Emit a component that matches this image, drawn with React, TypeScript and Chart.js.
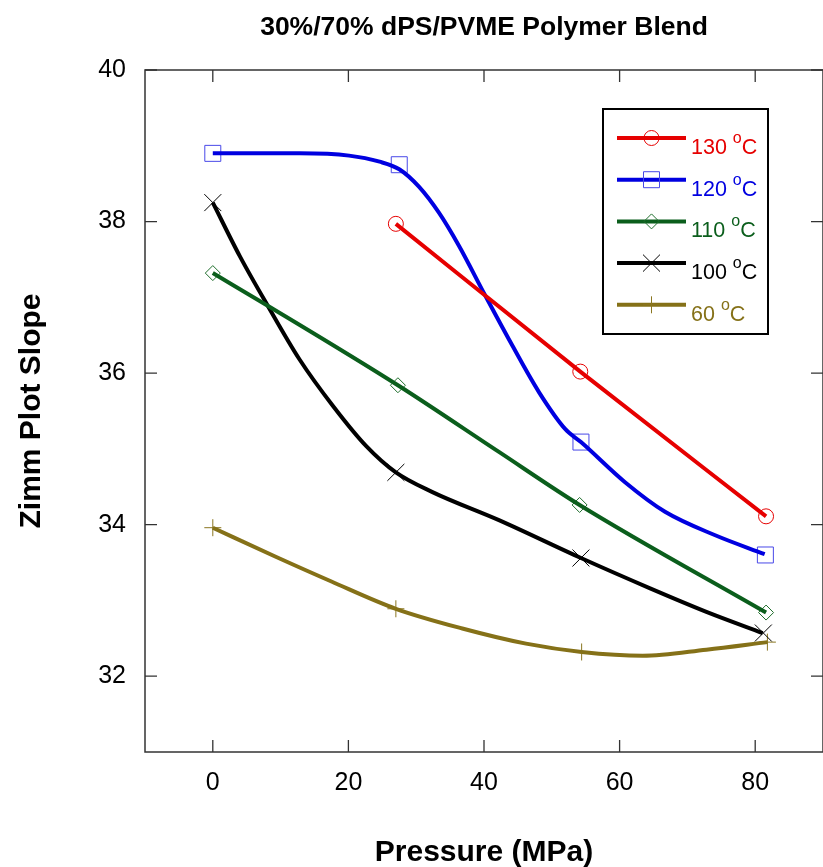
import React, { useEffect, useRef } from 'react';
import { Chart, registerables } from 'chart.js';
import { drawPoint } from 'chart.js/helpers';

Chart.register(...registerables);

const chartTitle = '30%/70% dPS/PVME Polymer Blend';
const xAxisTitle = 'Pressure (MPa)';
const yAxisTitle = 'Zimm Plot Slope';
const xTickValues = [0, 20, 40, 60, 80];
const yTickValues = [32, 34, 36, 38, 40];

const seriesTemps = ['130', '120', '110', '100', '60'];
const lineColors = ['#e60000', '#0000e0', '#0b5e1c', '#000000', '#857118'];
const markerColors = ['#e60000', '#4848e8', '#1f6e2c', '#000000', '#8a7620'];
const markerStyles = ['circle', 'rect', 'rectRot', 'crossRot', 'cross'];
const markerRadii = [7.5, 11.3, 7.5, 12, 8.5];

// measured points (markers)
const m130x = [27.0, 54.2, 81.6];
const m130y = [37.97, 36.02, 34.11];
const m120x = [0, 27.5, 54.3, 81.5];
const m120y = [38.9, 38.75, 35.09, 33.6];
const m110x = [0, 27.3, 54.1, 81.6];
const m110y = [37.32, 35.84, 34.26, 32.84];
const m100x = [0, 27.0, 54.3, 81.2];
const m100y = [38.25, 34.69, 33.56, 32.57];
const m60x = [0, 27.0, 54.4, 81.8];
const m60y = [33.96, 32.89, 32.32, 32.45];

// drawn fit curves
const c130x = [27.0, 54.2, 81.6];
const c130y = [37.97, 36.02, 34.11];
const c120x = [0, 12.8, 20.1, 24.6, 27.5, 30.4, 33.4, 36.3, 40.2, 44.2, 48.1, 52.0, 54.3, 60.8, 66.7, 74.1, 81.4];
const c120y = [38.9, 38.9, 38.87, 38.79, 38.69, 38.46, 38.11, 37.68, 37.02, 36.36, 35.75, 35.26, 35.09, 34.56, 34.17, 33.86, 33.61];
const c110x = [0, 8.1, 27.3, 42.2, 54.1, 81.6];
const c110y = [37.32, 36.89, 35.84, 34.96, 34.26, 32.84];
const c100x = [0, 4.0, 8.1, 12.8, 17.7, 22.6, 27.0, 32.4, 42.2, 54.3, 64.5, 72.8, 81.1];
const c100y = [38.25, 37.54, 36.89, 36.18, 35.57, 35.04, 34.69, 34.43, 34.06, 33.56, 33.16, 32.85, 32.57];
const c60x = [0, 9.2, 17.5, 27.0, 36.8, 46.2, 54.4, 63.4, 72.8, 81.8];
const c60y = [33.96, 33.58, 33.25, 32.89, 32.63, 32.43, 32.32, 32.27, 32.35, 32.45];

const markerX = [m130x, m120x, m110x, m100x, m60x];
const markerY = [m130y, m120y, m110y, m100y, m60y];
const curveX = [c130x, c120x, c110x, c100x, c60x];
const curveY = [c130y, c120y, c110y, c100y, c60y];

const FONT = '"Liberation Sans", Arial, sans-serif';

const pts = (xs: number[], ys: number[]) => xs.map((x, i) => ({ x, y: ys[i] }));

const framePlugin = {
  id: 'frame',
  afterDraw(chart: any) {
    const { ctx, chartArea: a, scales } = chart;
    ctx.save();
    ctx.strokeStyle = '#333333';
    ctx.lineWidth = 1.5;
    ctx.strokeRect(a.left, a.top, a.right - a.left, a.bottom - a.top);
    ctx.lineWidth = 1.3;
    const tl = 12;
    ctx.beginPath();
    xTickValues.forEach((v) => {
      const px = scales.x.getPixelForValue(v);
      ctx.moveTo(px, a.bottom);
      ctx.lineTo(px, a.bottom - tl);
      ctx.moveTo(px, a.top);
      ctx.lineTo(px, a.top + tl);
    });
    yTickValues.forEach((v) => {
      const py = scales.y.getPixelForValue(v);
      ctx.moveTo(a.left, py);
      ctx.lineTo(a.left + tl, py);
      ctx.moveTo(a.right, py);
      ctx.lineTo(a.right - tl, py);
    });
    ctx.stroke();
    // chart title centred over the plot area
    ctx.fillStyle = '#000';
    ctx.font = `bold 26.5px ${FONT}`;
    ctx.textAlign = 'center';
    ctx.textBaseline = 'middle';
    ctx.fillText(chartTitle, (a.left + a.right) / 2, 28);
    ctx.restore();
  },
};

const legendPlugin = {
  id: 'boxLegend',
  afterDraw(chart: any) {
    const { ctx, chartArea: a } = chart;
    const bx = a.left + 458;
    const by = a.top + 39;
    const bw = 165;
    const bh = 225;
    ctx.save();
    ctx.lineWidth = 2;
    ctx.strokeStyle = '#000';
    ctx.strokeRect(bx, by, bw, bh);
    seriesTemps.forEach((t, i) => {
      const y = by + 29 + i * 41.7;
      ctx.strokeStyle = lineColors[i];
      ctx.lineWidth = 4;
      ctx.beginPath();
      ctx.moveTo(bx + 14, y);
      ctx.lineTo(bx + 83, y);
      ctx.stroke();
      ctx.strokeStyle = markerColors[i];
      ctx.fillStyle = 'rgba(0,0,0,0)';
      ctx.lineWidth = 1;
      drawPoint(ctx, { pointStyle: markerStyles[i], radius: markerRadii[i], rotation: 0, borderWidth: 1 } as any, bx + 48.5, y);
      ctx.fillStyle = lineColors[i];
      ctx.textAlign = 'left';
      ctx.textBaseline = 'alphabetic';
      ctx.font = `21.5px ${FONT}`;
      const main = t + ' ';
      let tx = bx + 88;
      ctx.fillText(main, tx, y + 16);
      tx += ctx.measureText(main).width;
      ctx.font = `16px ${FONT}`;
      ctx.fillText('o', tx, y + 5);
      tx += ctx.measureText('o').width;
      ctx.font = `21.5px ${FONT}`;
      ctx.fillText('C', tx, y + 16);
    });
    ctx.restore();
  },
};

export default function App() {
  const ref = useRef<HTMLCanvasElement>(null);
  useEffect(() => {
    document.body.style.margin = '0';
    const lineSets = seriesTemps.map((t, i) => ({
      label: `${t} °C fit`,
      data: pts(curveX[i], curveY[i]),
      showLine: true,
      borderColor: lineColors[i],
      backgroundColor: lineColors[i],
      borderWidth: 4,
      pointRadius: 0,
      pointHoverRadius: 0,
      cubicInterpolationMode: 'monotone',
      order: 0,
    }));
    const markerSets = seriesTemps.map((t, i) => ({
      label: `${t} °C`,
      data: pts(markerX[i], markerY[i]),
      showLine: false,
      borderColor: markerColors[i],
      backgroundColor: 'rgba(0,0,0,0)',
      pointStyle: markerStyles[i],
      pointRadius: markerRadii[i],
      pointBorderWidth: 1,
      order: 1,
    }));
    const chart = new Chart(ref.current as HTMLCanvasElement, {
      type: 'scatter',
      data: { datasets: [...lineSets, ...markerSets] as any },
      options: {
        responsive: false,
        animation: false,
        devicePixelRatio: 1,
        layout: { autoPadding: false, padding: { top: 70, right: -2, left: 0, bottom: 0 } },
        plugins: { legend: { display: false }, tooltip: { enabled: false }, title: { display: false } },
        scales: {
          x: {
            type: 'linear',
            min: -10,
            max: 90,
            afterBuildTicks: (s: any) => {
              s.ticks = xTickValues.map((v) => ({ value: v }));
            },
            afterFit: (s: any) => {
              s.height = 115;
              s.paddingLeft = 0;
              s.paddingRight = 0;
            },
            grid: { display: false, drawTicks: false },
            border: { display: false },
            ticks: {
              color: '#000',
              font: { family: FONT, size: 25 },
              padding: 16,
              maxRotation: 0,
              autoSkip: false,
            },
            title: {
              display: true,
              text: xAxisTitle,
              color: '#000',
              font: { family: FONT, size: 30, weight: 'bold', lineHeight: 1 },
              padding: { top: 0, bottom: -1 },
            },
          },
          y: {
            type: 'linear',
            min: 31,
            max: 40,
            afterBuildTicks: (s: any) => {
              s.ticks = yTickValues.map((v) => ({ value: v }));
            },
            afterFit: (s: any) => {
              s.width = 145;
              s.paddingTop = 0;
              s.paddingBottom = 0;
            },
            grid: { display: false, drawTicks: false },
            border: { display: false },
            ticks: {
              color: '#000',
              font: { family: FONT, size: 25 },
              padding: 19,
              autoSkip: false,
            },
            title: {
              display: true,
              text: yAxisTitle,
              color: '#000',
              font: { family: FONT, size: 30, weight: 'bold', lineHeight: 1 },
              padding: { top: 17, bottom: 0 },
            },
          },
        },
      } as any,
      plugins: [framePlugin, legendPlugin],
    });
    return () => chart.destroy();
  }, []);
  return (
    <div style={{ width: 823, height: 867 }}>
      <canvas ref={ref} width={823} height={867} style={{ display: 'block' }} />
    </div>
  );
}
